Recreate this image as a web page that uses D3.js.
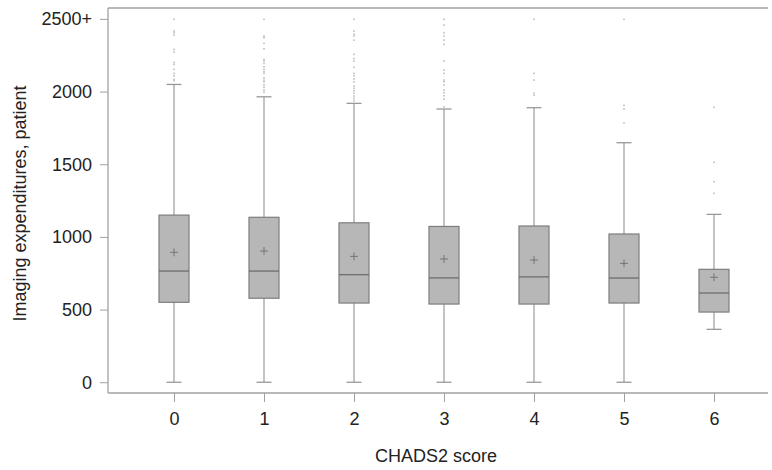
<!DOCTYPE html>
<html>
<head>
<meta charset="utf-8">
<script src="https://cdn.jsdelivr.net/npm/d3@7"></script>
<style>
  body { margin: 0; background: #fff; }
  text { font-family: "Liberation Sans", Arial, sans-serif; fill: #222; }
</style>
</head>
<body>
<div id="container"></div>
<script>
// CHADS2 score categories and box statistics
const scores = ["0", "1", "2", "3", "4", "5", "6"];
const whiskerLow = [0, 0, 0, 0, 0, 0, 364];
const q1 = [550, 578, 545, 538, 538, 545, 483];
const medians = [765, 765, 740, 718, 725, 717, 614];
const q3 = [1150, 1135, 1097, 1072, 1075, 1020, 777];
const whiskerHigh = [2049, 1964, 1919, 1880, 1889, 1648, 1155];
const means = [894, 903, 866, 848, 841, 818, 722];

// outliers per score (values above upper whisker, capped at 2500+)
const outliers = [
  [2497, 2416, 2405, 2389, 2290, 2272, 2201, 2187, 2153, 2125, 2108, 2084, 2074],
  [2497, 2382, 2370, 2332, 2294, 2221, 2210, 2194, 2171, 2153, 2136, 2125, 2095, 2079, 2067, 2045, 2029, 2010, 1995],
  [2497, 2416, 2395, 2382, 2354, 2256, 2228, 2210, 2166, 2125, 2108, 2086, 2067, 2038, 2022, 2005, 1988, 1969, 1953, 1937],
  [2497, 2457, 2404, 2382, 2354, 2325, 2210, 2148, 2125, 2079, 2067, 2045, 2010, 1992, 1971, 1948, 1895],
  [2497, 2125, 2079, 1988, 1974],
  [2497, 1905, 1880, 1785],
  [1891, 1513, 1380, 1300]
];

const yTicks = [0, 500, 1000, 1500, 2000, 2500];
const yTickLabels = ["0", "500", "1000", "1500", "2000", "2500+"];

const width = 772;
const height = 470;
const margin = { top: 8, right: 4, bottom: 77, left: 108 };

const data = scores.map((s, i) => ({
  score: s, lo: whiskerLow[i], q1: q1[i], med: medians[i], q3: q3[i],
  hi: whiskerHigh[i], mean: means[i], out: outliers[i]
}));

const svg = d3.select("#container").append("svg")
  .attr("width", width)
  .attr("height", height);

const x = d3.scalePoint()
  .domain(scores)
  .range([margin.left + 66, width - margin.right - 54]);

const y = d3.scaleLinear()
  .domain([-74, 2575])
  .range([height - margin.bottom, margin.top]);

const axisColor = "#a0a0a0";
const boxW = 30;
const capW = 15;

// frame lines: left, top, bottom
svg.append("g")
  .attr("stroke", axisColor)
  .attr("stroke-width", 1.3)
  .selectAll("line")
  .data([
    [margin.left, margin.top, margin.left, height - margin.bottom],
    [margin.left, margin.top, width - margin.right, margin.top],
    [margin.left, height - margin.bottom, width - margin.right, height - margin.bottom]
  ])
  .join("line")
  .attr("x1", d => d[0]).attr("y1", d => d[1])
  .attr("x2", d => d[2]).attr("y2", d => d[3]);

// y axis
const yAxis = svg.append("g")
  .attr("transform", `translate(${margin.left},0)`)
  .call(d3.axisLeft(y).tickValues(yTicks).tickFormat((d, i) => yTickLabels[i]).tickSize(8).tickPadding(8));
yAxis.select(".domain").remove();
yAxis.selectAll(".tick line").attr("stroke", axisColor);
yAxis.selectAll(".tick text").attr("font-size", 18).attr("fill", "#222");

// x axis
const xAxis = svg.append("g")
  .attr("transform", `translate(0,${height - margin.bottom})`)
  .call(d3.axisBottom(x).tickSize(9).tickPadding(10));
xAxis.select(".domain").remove();
xAxis.selectAll(".tick line").attr("stroke", axisColor);
xAxis.selectAll(".tick text").attr("font-size", 18).attr("fill", "#222");

// whiskers
const groups = svg.append("g").selectAll("g")
  .data(data)
  .join("g")
  .attr("transform", d => `translate(${x(d.score)},0)`);

groups.append("line")
  .attr("y1", d => y(d.lo)).attr("y2", d => y(d.hi))
  .attr("stroke", "#a3a3a3").attr("stroke-width", 1.3);

groups.selectAll(".cap")
  .data(d => [d.lo, d.hi])
  .join("line")
  .attr("class", "cap")
  .attr("x1", -capW / 2).attr("x2", capW / 2)
  .attr("y1", v => y(v)).attr("y2", v => y(v))
  .attr("stroke", "#999").attr("stroke-width", 1.3);

// boxes
groups.append("rect")
  .attr("x", -boxW / 2)
  .attr("width", boxW)
  .attr("y", d => y(d.q3))
  .attr("height", d => y(d.q1) - y(d.q3))
  .attr("fill", "#b7b7b7")
  .attr("stroke", "#7d7d7d")
  .attr("stroke-width", 1.2);

// medians
groups.append("line")
  .attr("x1", -boxW / 2).attr("x2", boxW / 2)
  .attr("y1", d => y(d.med)).attr("y2", d => y(d.med))
  .attr("stroke", "#6e6e6e").attr("stroke-width", 1.3);

// means as +
groups.append("path")
  .attr("d", d => `M-4,${y(d.mean)}h8M0,${y(d.mean) - 4}v8`)
  .attr("stroke", "#6e6e6e").attr("stroke-width", 0.9);

// outliers
groups.selectAll(".out")
  .data(d => d.out)
  .join("rect")
  .attr("class", "out")
  .attr("x", -0.8).attr("width", 1.6)
  .attr("y", v => y(v) - 0.8).attr("height", 1.6)
  .attr("fill", "#bdbdbd");

// axis titles
svg.append("text")
  .attr("x", x("3") - 8)
  .attr("y", 462)
  .attr("text-anchor", "middle")
  .attr("font-size", 18)
  .text("CHADS2 score");

svg.append("text")
  .attr("transform", `translate(26,${y(1230)}) rotate(-90)`)
  .attr("text-anchor", "middle")
  .attr("font-size", 18)
  .text("Imaging expenditures, patient");
</script>
</body>
</html>
